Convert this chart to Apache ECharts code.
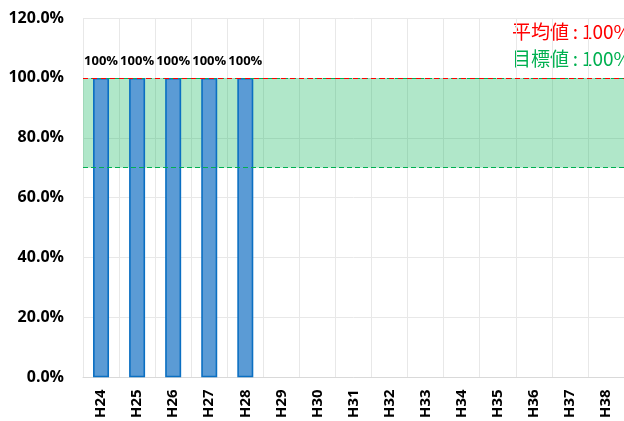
<!DOCTYPE html>
<html><head><meta charset="utf-8">
<script src="https://cdn.jsdelivr.net/npm/echarts@6/dist/echarts.min.js"></script>
<style>html,body{margin:0;padding:0;background:#fff}#c{width:624px;height:421px}</style>
</head><body><div id="c"></div>
<script>
var categories = ['H24','H25','H26','H27','H28','H29','H30','H31','H32','H33','H34','H35','H36','H37','H38'];
var achievement = [100,100,100,100,100,null,null,null,null,null,null,null,null,null,null];
var yTicks = [0,20,40,60,80,100,120];
var averageValue = 100;
var targetValue = 100;
var bandLow = 70;
var bandHigh = 100;

var chart = echarts.init(document.getElementById('c'), null, {renderer:'canvas'});
var font = '"Open Sans", sans-serif';
chart.setOption({
  animation:false,
  grid:{left:83, top:18, width:550, height:362},
  xAxis:{type:'category', data:categories, boundaryGap:true,
    axisLine:{show:true, lineStyle:{color:'#D9D9D9', width:1}},
    axisTick:{show:false},
    splitLine:{show:true, lineStyle:{color:'#E8E8E8', width:1}},
    axisLabel:{rotate:90, margin:12, color:'#000', fontWeight:'bold', fontSize:15, fontFamily:font, interval:0}
  },
  yAxis:{type:'value', min:yTicks[0], max:yTicks[yTicks.length-1], interval:20,
    axisLine:{show:false}, axisTick:{show:false},
    splitLine:{lineStyle:{color:'#E8E8E8', width:1}},
    axisLabel:{margin:19, color:'#000', fontWeight:'bold', fontSize:16, fontFamily:font,
      formatter:function(v){return v.toFixed(1)+'%';}}
  },
  series:[
    {type:'line', data:[], z:1, silent:true,
      markArea:{silent:true, itemStyle:{color:'rgba(0,176,80,0.31)'},
        data:[[{yAxis:bandLow},{yAxis:bandHigh}]]}
    },
    {type:'bar', data:achievement, barWidth:16, z:3,
      itemStyle:{color:'#5B9BD5', borderColor:'#0A6FC2', borderWidth:1.6},
      label:{show:true, position:'top', distance:10, color:'#000', fontWeight:'bold', fontSize:13, fontFamily:font,
        formatter:function(p){return p.value+'%';}},
      markLine:{silent:true, symbol:'none', label:{show:false}, z:5,
        data:[
          {yAxis:bandLow, lineStyle:{color:'#00B050', type:[5,3], width:1.2}},
          {yAxis:targetValue, lineStyle:{color:'#00B050', type:[5,3], width:1.2}},
          {yAxis:averageValue, lineStyle:{color:'#FF0000', type:[5,4], width:1.2}}
        ]}
    }
  ],
  graphic:[
    {type:'text', left:512, top:22, style:{text:'平均値\u2009:\u2009'+averageValue+'%', fill:'#FF0000', font:'19px "Noto Sans CJK JP", sans-serif'}},
    {type:'text', left:512, top:49, style:{text:'目標値\u2009:\u2009'+targetValue+'%', fill:'#00B050', font:'19px "Noto Sans CJK JP", sans-serif'}}
  ]
});
</script></body></html>
